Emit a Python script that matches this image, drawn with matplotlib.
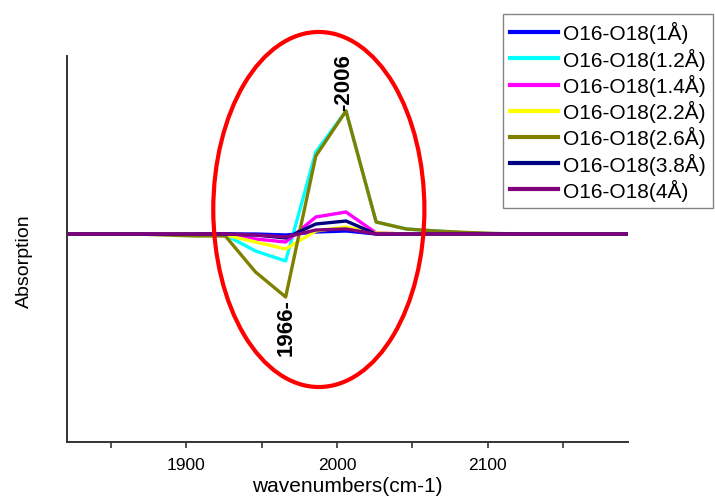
"""
IR absorption difference spectra, O16-O18 at several distances
"""

# ── 0. Imports ───────────────────────────────────────────
import numpy as np
import matplotlib
matplotlib.use("Agg")
import matplotlib.pyplot as plt
from matplotlib.patches import Ellipse

plt.rcParams["font.family"] = ["Liberation Sans", "DejaVu Sans"]

# ── Data ─────────────────────────────────────────────────
wavenumbers = [1806, 1826, 1846, 1866, 1886, 1906, 1926, 1946, 1966, 1986,
               2006, 2026, 2046, 2066, 2086, 2106, 2126, 2146, 2166, 2186, 2206]

labels = ["O16-O18(1Å)", "O16-O18(1.2Å)", "O16-O18(1.4Å)", "O16-O18(2.2Å)",
          "O16-O18(2.6Å)", "O16-O18(3.8Å)", "O16-O18(4Å)"]
colors = ["#0000ff", "#00ffff", "#ff00ff", "#ffff00",
          "#808000", "#000080", "#800080"]

abs_1_0 = [0, 0, 0, 0, 0, 0, 0, 0, -0.01, 0.02, 0.03, 0, 0, 0, 0, 0, 0, 0, 0, 0, 0]
abs_1_2 = [0, 0, 0, 0, 0, 0, -0.01, -0.17, -0.27, 0.82, 1.23, 0.12, 0.05, 0.03, 0.01, 0, 0, 0, 0, 0, 0]
abs_1_4 = [0, 0, 0, 0, 0, 0, 0, -0.05, -0.08, 0.17, 0.22, 0.01, 0, 0, 0, 0, 0, 0, 0, 0, 0]
abs_2_2 = [0, 0, 0, 0, 0, 0, -0.01, -0.08, -0.15, 0.03, 0.07, 0.01, 0, 0, 0, 0, 0, 0, 0, 0, 0]
abs_2_6 = [0, 0, 0, 0, -0.01, -0.02, -0.02, -0.38, -0.63, 0.78, 1.23, 0.12, 0.05, 0.03, 0.015, 0.005, 0, 0, 0, 0, 0]
abs_3_8 = [0, 0, 0, 0, 0, 0, 0, -0.01, -0.04, 0.10, 0.13, 0, 0, 0, 0, 0, 0, 0, 0, 0, 0]
abs_4_0 = [0, 0, 0, 0, 0, 0, 0, -0.01, -0.03, 0.04, 0.05, 0, 0, 0, 0, 0, 0, 0, 0, 0, 0]

series = [abs_1_0, abs_1_2, abs_1_4, abs_2_2, abs_2_6, abs_3_8, abs_4_0]

peak_hi = (2006, 1.23)
peak_lo = (1966, -0.63)

# ── Figure ───────────────────────────────────────────────
fig = plt.figure(figsize=(7.15, 5.02), dpi=100)
ax = fig.add_axes([0.0937, 0.1175, 0.7846, 0.769])

for vals, lab, col in zip(series, labels, colors):
    ax.plot(wavenumbers, vals, color=col, linewidth=2.4, label=lab)

ax.set_xlim(1821, 2193)
ax.set_ylim(-2.08, 1.78)

# highlight ellipse around the isotope shift
ell = Ellipse((1988, 0.245), width=140, height=3.55, fill=False,
              edgecolor="red", linewidth=3, clip_on=False, zorder=5)
ax.add_patch(ell)

# peak labels
ax.annotate("-2006", xy=peak_hi, xytext=(-2, 1), textcoords="offset points",
            rotation=90, ha="center", va="bottom",
            fontsize=16, fontweight="bold", zorder=6)
ax.annotate("1966-", xy=peak_lo, xytext=(0, -1), textcoords="offset points",
            rotation=90, ha="center", va="top",
            fontsize=16, fontweight="bold", zorder=6)

# axes styling
for side in ["top", "right"]:
    ax.spines[side].set_visible(False)
for side in ["left", "bottom"]:
    ax.spines[side].set_color("#333333")
    ax.spines[side].set_linewidth(1.4)

ax.set_xticks([1900, 2000, 2100])
ax.set_xticks([1850, 1950, 2050, 2150], minor=True)
ax.tick_params(axis="x", which="both", direction="out", length=4,
               width=1.2, color="#333333", labelsize=12.5, pad=7)
ax.set_yticks([])

ax.set_xlabel("wavenumbers(cm-1)", fontsize=15, labelpad=3)
ax.set_ylabel("Absorption", fontsize=14)
ax.yaxis.set_label_coords(-0.06, 0.47)

leg = fig.legend(loc="upper left", bbox_to_anchor=(503 / 715, 1 - 15 / 502),
                 fontsize=15, frameon=True, fancybox=False, handlelength=2.3,
                 handletextpad=0.25, labelspacing=0.2, borderpad=0.35,
                 borderaxespad=0)
leg.get_frame().set_edgecolor("#666666")
leg.get_frame().set_linewidth(1.0)
for h in leg.get_lines():
    h.set_linewidth(3)

fig.savefig("out.png", dpi=100)
plt.close()
